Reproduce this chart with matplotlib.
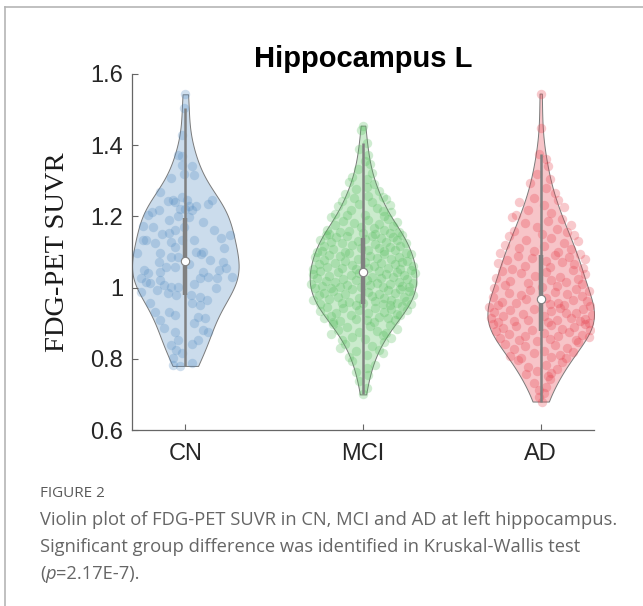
import numpy as np
import matplotlib
matplotlib.use('Agg')
import matplotlib.pyplot as plt
from matplotlib.lines import Line2D
from matplotlib.ticker import FuncFormatter

groups = ['CN', 'MCI', 'AD']
colors = [(0.33, 0.55, 0.76), (0.33, 0.74, 0.36), (0.90, 0.24, 0.29)]
title = 'Hippocampus L'
ylabel = 'FDG-PET SUVR'
yticks = [0.6, 0.8, 1.0, 1.2, 1.4, 1.6]

# SUVR values, with the horizontal jitter of each dot
cn_y = [1.543, 1.504, 1.429, 1.372, 1.370, 1.342, 1.344, 1.316, 1.318, 1.307,
        1.268, 1.243, 1.246, 1.241, 1.255, 1.246, 1.230, 1.230, 1.246, 1.235,
        1.213, 1.218, 1.220, 1.220, 1.218, 1.204, 1.190, 1.202, 1.199, 1.173,
        1.171, 1.152, 1.162, 1.171, 1.134, 1.162, 1.138, 1.148, 1.134, 1.134,
        1.124, 1.129, 1.115, 1.134, 1.101, 1.101, 1.096, 1.096, 1.087, 1.087,
        1.078, 1.073, 1.073, 1.059, 1.059, 1.049, 1.040, 1.045, 1.049, 1.054,
        1.031, 1.026, 1.026, 1.017, 1.012, 1.021, 1.007, 1.003, 1.003, 1.026,
        1.031, 0.989, 0.993, 0.984, 0.979, 0.979, 0.998, 0.975, 0.956, 0.951,
        0.956, 0.932, 0.932, 0.923, 0.918, 0.914, 0.909, 0.900, 0.886, 0.876,
        0.881, 0.876, 0.853, 0.839, 0.853, 0.843, 0.825, 0.815, 0.783, 0.780,
        0.787, 0.801, 1.110, 1.065, 1.095, 1.150, 1.045, 0.965, 1.185, 1.010]
cn_dx = [0.00, -0.01, -0.02, -0.04, -0.02, 0.04, -0.02, 0.05, -0.01, -0.08,
         -0.14, -0.10, -0.07, -0.06, -0.02, 0.01, 0.02, 0.06, 0.15, 0.13,
         -0.19, -0.15, -0.03, 0.00, 0.04, -0.21, -0.09, -0.04, 0.02, -0.24,
         -0.18, -0.09, -0.06, -0.01, 0.05, 0.16, 0.20, 0.25, -0.24, -0.22,
         -0.17, -0.08, -0.06, -0.02, 0.06, 0.10, -0.27, -0.14, -0.08, -0.04,
         0.14, 0.21, -0.15, -0.11, -0.06, -0.23, -0.21, -0.14, 0.19, 0.23,
         0.13, 0.18, -0.25, -0.22, -0.20, -0.14, -0.12, -0.08, -0.04, 0.08,
         0.26, -0.25, -0.16, -0.10, -0.05, 0.03, 0.17, 0.08, 0.04, 0.08,
         -0.20, -0.17, -0.09, -0.06, 0.07, 0.11, -0.14, 0.05, -0.12, -0.06,
         0.10, 0.13, 0.07, -0.08, -0.04, 0.04, -0.05, -0.02, -0.07, -0.03,
         0.04, -0.07, 0.22, 0.02, 0.09, -0.13, 0.10, 0.12, 0.10, 0.05]

mci_y = [1.455, 1.442,
         1.405,
         1.388, 1.372, 1.356,
         1.347, 1.333, 1.321, 1.312, 1.304,
         1.296, 1.291, 1.283, 1.277, 1.270, 1.264, 1.258, 1.255, 1.251,
         1.248, 1.244, 1.240, 1.236, 1.231, 1.228, 1.224, 1.219, 1.215, 1.212, 1.208, 1.205, 1.203, 1.201,
         1.198, 1.193, 1.191, 1.187, 1.184, 1.182, 1.178, 1.177, 1.172, 1.169,
         1.168, 1.163, 1.161, 1.158, 1.157, 1.155, 1.154, 1.152, 1.151, 1.150,
         1.149, 1.147, 1.146, 1.144, 1.142, 1.141, 1.139, 1.137, 1.135, 1.133,
         1.131, 1.129, 1.127, 1.126, 1.124, 1.122, 1.120, 1.118, 1.116, 1.114,
         1.112, 1.110, 1.108, 1.107, 1.105, 1.104, 1.102, 1.101,
         1.099, 1.098, 1.096, 1.095, 1.093, 1.091, 1.090, 1.088, 1.086, 1.085,
         1.083, 1.081, 1.080, 1.078, 1.076, 1.075, 1.073, 1.071, 1.070, 1.068,
         1.066, 1.065, 1.063, 1.061, 1.060, 1.058, 1.056, 1.055, 1.054, 1.053,
         1.052, 1.051,
         1.049, 1.048, 1.047, 1.045, 1.044, 1.042, 1.041, 1.039, 1.038, 1.036,
         1.035, 1.033, 1.031, 1.030, 1.028, 1.027, 1.025, 1.024, 1.022, 1.020,
         1.019, 1.017, 1.016, 1.014, 1.013, 1.011, 1.010, 1.008, 1.007, 1.005,
         1.004, 1.003, 1.002, 1.002, 1.001, 1.000,
         0.998, 0.996, 0.995, 0.993, 0.991, 0.990, 0.988, 0.986, 0.985, 0.983,
         0.981, 0.980, 0.978, 0.976, 0.975, 0.973, 0.971, 0.970, 0.968, 0.966,
         0.965, 0.963, 0.961, 0.960, 0.958, 0.957, 0.956, 0.955, 0.954, 0.953,
         0.952, 0.951,
         0.948, 0.946, 0.944, 0.942, 0.940, 0.938, 0.936, 0.934, 0.932, 0.930,
         0.928, 0.926, 0.924, 0.922, 0.920, 0.918, 0.916, 0.914, 0.912, 0.910,
         0.908, 0.906, 0.904, 0.902,
         0.898, 0.895, 0.892, 0.889, 0.885, 0.882, 0.879, 0.876, 0.872, 0.869,
         0.866, 0.862, 0.859, 0.855, 0.852,
         0.847, 0.842, 0.836, 0.831, 0.826, 0.821, 0.815, 0.810, 0.804,
         0.795, 0.784, 0.773, 0.764, 0.755,
         0.738, 0.719, 0.700]
mci_dx = [0.00, -0.01,
          0.02,
          -0.02, 0.03, 0.01,
          0.04, -0.03, 0.05, -0.06, 0.02,
          -0.08, 0.06, 0.02, -0.04, 0.09, -0.10, 0.03, 0.11, -0.05,
          0.13, -0.12, 0.05, -0.02, 0.15, -0.14, 0.08, -0.07, 0.11, 0.16, -0.16, 0.01, -0.09, 0.12,
          -0.18, 0.14, 0.03, -0.11, 0.19, -0.05, 0.09, -0.16, 0.17, -0.01,
          0.06, -0.20, 0.12, -0.08, 0.20, -0.13, 0.00, 0.15, -0.19, 0.07,
          0.22, -0.21, 0.05, -0.09, 0.17, -0.15, 0.10, 0.01, -0.24, 0.19,
          -0.03, 0.13, -0.18, 0.24, -0.12, 0.07, -0.06, 0.21, -0.22, 0.15,
          -0.01, 0.09, -0.17, 0.03, 0.18, -0.23, 0.12, -0.10,
          -0.26, 0.24, -0.08, 0.12, 0.27, -0.19, 0.04, -0.13, 0.20, -0.27,
          0.08, -0.03, 0.16, -0.22, 0.25, -0.10, 0.01, 0.22, -0.16, 0.10,
          -0.25, 0.18, -0.06, 0.06, 0.28, -0.20, 0.14, -0.12, 0.03, -0.28,
          0.21, -0.04,
          0.27, -0.24, 0.09, -0.14, 0.19, -0.02, 0.29, -0.28, 0.13, -0.07,
          0.23, -0.19, 0.05, 0.17, -0.26, 0.10, -0.11, 0.25, -0.04, 0.02,
          -0.21, 0.20, -0.16, 0.08, 0.28, -0.29, 0.15, -0.09, 0.04, -0.23,
          0.22, -0.13, 0.11, -0.01, 0.26, -0.18,
          -0.27, 0.21, -0.06, 0.14, 0.26, -0.17, 0.03, -0.22, 0.18, -0.10,
          0.09, 0.28, -0.25, 0.05, -0.14, 0.23, -0.02, 0.12, -0.19, 0.16,
          -0.28, 0.07, 0.24, -0.08, 0.19, -0.12, 0.00, -0.24, 0.11, 0.27,
          -0.04, 0.15,
          0.22, -0.20, 0.07, -0.11, 0.16, -0.02, 0.25, -0.24, 0.12, -0.15,
          0.03, 0.19, -0.07, 0.21, -0.18, 0.09, -0.22, 0.14, -0.04, 0.02,
          0.18, -0.13, 0.06, -0.17,
          -0.17, 0.15, 0.04, -0.09, 0.19, -0.14, 0.08, -0.02, 0.13, -0.18,
          0.11, -0.06, 0.16, 0.01, -0.12,
          0.12, -0.10, 0.05, -0.13, 0.09, -0.04, 0.11, 0.02, -0.08,
          -0.06, 0.07, 0.02, -0.04, 0.03,
          -0.02, 0.02, 0.00]

ad_y = [1.545,
        1.449,
        1.375, 1.362,
        1.342, 1.318, 1.306,
        1.294, 1.279, 1.266, 1.253,
        1.247, 1.240, 1.232, 1.226, 1.218, 1.210, 1.203,
        1.197, 1.192, 1.186, 1.181, 1.176, 1.170, 1.165, 1.160, 1.156, 1.151,
        1.148, 1.144, 1.139, 1.135, 1.130, 1.126, 1.121, 1.117, 1.112, 1.108, 1.104, 1.101,
        1.098, 1.095, 1.092, 1.089, 1.086, 1.083, 1.080, 1.077, 1.074, 1.071,
        1.068, 1.065, 1.062, 1.059, 1.055, 1.052,
        1.049, 1.046, 1.043, 1.040, 1.037, 1.034, 1.031, 1.028, 1.025, 1.022,
        1.019, 1.016, 1.013, 1.010, 1.007, 1.004, 1.001,
        0.998, 0.995, 0.992, 0.990, 0.987, 0.984, 0.981, 0.979, 0.976, 0.973,
        0.970, 0.968, 0.965, 0.962, 0.960, 0.958, 0.956, 0.954, 0.952, 0.951,
        0.948, 0.946, 0.944, 0.941, 0.939, 0.937, 0.934, 0.932, 0.930, 0.928,
        0.925, 0.923, 0.921, 0.919, 0.916, 0.914, 0.912, 0.910, 0.908, 0.906,
        0.905, 0.903, 0.902, 0.901,
        0.899, 0.897, 0.894, 0.892, 0.890, 0.887, 0.885, 0.882, 0.880, 0.877,
        0.875, 0.872, 0.870, 0.868, 0.865, 0.863, 0.861, 0.858, 0.856, 0.854,
        0.852, 0.851,
        0.847, 0.843, 0.839, 0.835, 0.831, 0.827, 0.823, 0.820, 0.816, 0.812,
        0.808, 0.805, 0.803, 0.801,
        0.796, 0.790, 0.784, 0.778, 0.772, 0.766, 0.761, 0.756, 0.751,
        0.744, 0.733, 0.722, 0.712, 0.703,
        0.692, 0.680]
ad_dx = [0.00,
         0.00,
         -0.01, 0.03,
         0.04, -0.02, 0.05,
         -0.06, 0.03, 0.08, -0.04,
         0.10, -0.12, 0.02, 0.13, -0.07, 0.06, -0.14,
         -0.16, 0.12, 0.04, -0.09, 0.17, -0.02, 0.09, -0.15, 0.15, 0.01,
         0.19, -0.18, 0.06, -0.08, 0.21, 0.13, -0.20, 0.02, -0.12, 0.17, -0.04, 0.10,
         -0.23, 0.22, 0.08, -0.13, 0.16, -0.05, 0.25, -0.19, 0.03, 0.12,
         -0.24, 0.19, -0.09, 0.05, 0.24, -0.16,
         0.18, -0.22, 0.03, -0.11, 0.25, -0.03, 0.11, -0.25, 0.21, 0.06,
         -0.17, 0.14, -0.07, 0.23, -0.20, 0.09, 0.01,
         -0.26, 0.20, -0.06, 0.27, 0.08, -0.18, 0.15, -0.11, 0.23, -0.27,
         0.03, -0.08, 0.18, 0.26, -0.22, 0.10, -0.14, 0.05, -0.24, 0.13,
         0.28, -0.29, 0.11, -0.04, 0.24, -0.17, 0.06, -0.26, 0.20, 0.14,
         -0.10, 0.29, -0.21, 0.02, 0.17, -0.28, 0.25, -0.07, 0.09, -0.15,
         0.22, -0.24, 0.04, 0.27,
         -0.27, 0.25, 0.06, -0.14, 0.19, -0.21, 0.12, 0.28, -0.05, -0.25,
         0.16, 0.02, -0.18, 0.23, -0.09, 0.10, 0.27, -0.23, 0.05, -0.12,
         0.20, -0.02,
         0.21, -0.20, 0.08, -0.09, 0.15, -0.15, 0.02, 0.18, -0.04, 0.11,
         -0.17, 0.06, -0.11, 0.14,
         -0.13, 0.12, 0.03, -0.07, 0.09, -0.02, 0.06, -0.08, 0.04,
         0.05, -0.04, 0.03, -0.01, 0.02,
         -0.01, 0.01]

values = [cn_y, mci_y, ad_y]
jitter = [cn_dx, mci_dx, ad_dx]

fig = plt.figure(figsize=(6.43, 6.06), dpi=100)
ax = fig.add_axes([0.2053, 0.2904, 0.7185, 0.5875])

positions = np.arange(1, len(groups) + 1)
parts = ax.violinplot(values, positions=positions, widths=0.6,
                      showextrema=False, showmedians=False)
for body, c in zip(parts['bodies'], colors):
    body.set_facecolor((*c, 0.3))
    body.set_edgecolor('#7a7a7a')
    body.set_linewidth(0.7)
    body.set_alpha(None)

for pos, ys, dxs, c in zip(positions, values, jitter, colors):
    ys = np.asarray(ys)
    ax.scatter(pos + np.asarray(dxs), ys, s=46, color=c, alpha=0.28,
               linewidths=0, zorder=3)
    q1, med, q3 = np.percentile(ys, [25, 50, 75])
    iqr = q3 - q1
    lo = ys[ys >= q1 - 1.5 * iqr].min()
    hi = ys[ys <= q3 + 1.5 * iqr].max()
    ax.plot([pos, pos], [lo, hi], color='#808080', lw=1.8,
            solid_capstyle='butt', zorder=4)
    ax.plot([pos, pos], [q1, q3], color='#808080', lw=3.2,
            solid_capstyle='butt', zorder=4)
    ax.plot(pos, med, 'o', ms=6, mfc='white', mec='#808080', mew=0.8,
            zorder=5)

ax.set_xlim(0.7, 3.3)
ax.set_ylim(0.6, 1.6)
ax.set_xticks(positions)
ax.set_xticklabels(groups, fontsize=17, family='Liberation Sans')
ax.set_yticks(yticks)
ax.yaxis.set_major_formatter(FuncFormatter(lambda v, p: f'{v:g}'))
for lab in ax.get_yticklabels():
    lab.set_family('Liberation Sans')
    lab.set_fontsize(17)
ax.tick_params(direction='in', length=4, width=0.8, color='#666666',
               labelcolor='#262626')
ax.tick_params(axis='x', pad=9.5)
ax.tick_params(axis='y', pad=6.5)
for side in ['top', 'right']:
    ax.spines[side].set_visible(False)
for side in ['left', 'bottom']:
    ax.spines[side].set_color('#666666')
    ax.spines[side].set_linewidth(0.9)

ax.set_ylabel(ylabel, family='Liberation Serif', fontsize=20.5, color='#1a1a1a')
ax.yaxis.set_label_coords(-(132 - 70) / 462, 0.5)

fig.text(363 / 643, 1 - 67 / 606, title, ha='center', va='baseline',
         fontsize=21, fontweight='bold', family='Liberation Sans')

# caption underneath the chart
cap_color = '#666666'
fig.text(40 / 643, 1 - 497 / 606, 'FIGURE 2', fontsize=11,
         family='Open Sans', color='#5a5a5a', va='baseline')
fig.text(40 / 643, 1 - 525 / 606,
         'Violin plot of FDG-PET SUVR in CN, MCI and AD at left hippocampus.',
         fontsize=13.2, family='Open Sans', color=cap_color, va='baseline')
fig.text(40 / 643, 1 - 552 / 606,
         'Significant group difference was identified in Kruskal-Wallis test',
         fontsize=13.2, family='Open Sans', color=cap_color, va='baseline')
t1 = fig.text(40 / 643, 1 - 579 / 606, '(', fontsize=13.2, family='Open Sans',
              color=cap_color, va='baseline')
t2 = ax.annotate('p', xy=(1, 0), xycoords=t1, va='bottom', ha='left',
                 fontsize=13.2, family='Open Sans', style='italic',
                 color=cap_color, annotation_clip=False)
ax.annotate('=2.17E-7).', xy=(1, 0), xycoords=t2, va='bottom', ha='left',
            fontsize=13.2, family='Open Sans', color=cap_color,
            annotation_clip=False)

# frame lines of the figure panel
fig.add_artist(Line2D([5 / 643, 5 / 643], [0, 1 - 7 / 606],
                      transform=fig.transFigure, color='#b5b5b5', lw=1.2))
fig.add_artist(Line2D([5 / 643, 1], [1 - 7 / 606, 1 - 7 / 606],
                      transform=fig.transFigure, color='#b5b5b5', lw=1.2))

fig.savefig('out.png', dpi=100)
